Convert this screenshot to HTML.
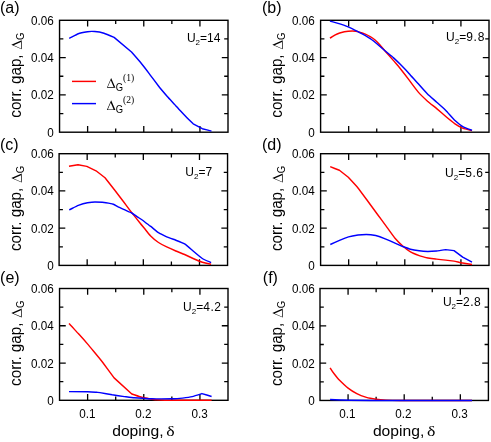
<!DOCTYPE html>
<html><head><meta charset="utf-8"><title>corr. gap vs doping</title>
<style>
html,body{margin:0;padding:0;background:#fff;}
body{width:491px;height:442px;overflow:hidden;}
svg{display:block;will-change:transform;}
text{font-family:"Liberation Sans",sans-serif;fill:#000;}
.tl{font-size:13px;}
.pl{font-size:16px;}
.ax{font-size:15px;}
.u{font-size:12px;}
.sy{font-family:"Liberation Serif",serif;}
.fr{fill:none;stroke:#000;stroke-width:1.4;}
.tk{fill:none;stroke:#000;stroke-width:1.3;}
.r{fill:none;stroke:#ff0000;stroke-width:1.45;stroke-linejoin:round;}
.b{fill:none;stroke:#0000ff;stroke-width:1.45;stroke-linejoin:round;}
</style></head><body>
<svg width="491" height="442" viewBox="0 0 491 442">
<rect x="0" y="0" width="491" height="442" fill="#fff"/>
<g id="panel-a">
<path class="tk" d="M87.62 20.30v6.20M87.62 132.20v-6.20M115.70 20.30v3.80M115.70 132.20v-3.80M143.77 20.30v6.20M143.77 132.20v-6.20M171.85 20.30v3.80M171.85 132.20v-3.80M199.93 20.30v6.20M199.93 132.20v-6.20M59.55 113.55h3.80M228.00 113.55h-3.80M59.55 94.90h6.20M228.00 94.90h-6.20M59.55 76.25h3.80M228.00 76.25h-3.80M59.55 57.60h6.20M228.00 57.60h-6.20M59.55 38.95h3.80M228.00 38.95h-3.80"/>
<rect class="fr" x="59.55" y="20.30" width="168.45" height="111.90"/>
<path class="b" d="M69.2 38.3C69.9 38.0 77.0 34.2 78.3 33.7C79.6 33.2 86.3 31.9 87.5 31.7C88.7 31.5 93.6 31.4 94.8 31.5C96.0 31.6 102.6 32.8 104.0 33.2C105.4 33.6 114.1 37.4 114.1 37.4C114.1 37.4 131.5 52.0 131.5 52.0C131.5 52.0 138.7 60.2 140.0 61.8C141.3 63.4 147.9 71.9 149.2 73.7C150.5 75.5 157.0 84.0 158.3 85.7C159.6 87.4 166.2 95.2 167.5 96.7C168.8 98.2 175.4 105.2 176.7 106.7C178.0 108.2 184.6 115.2 185.8 116.5C187.0 117.8 193.2 123.8 193.2 123.8C193.2 123.8 202.3 128.7 202.3 128.7C202.3 128.7 210.8 130.9 211.5 131.1"/>
<text class="tl" text-anchor="end" transform="translate(53.8 136.7) scale(0.9 1)">0</text>
<text class="tl" text-anchor="end" transform="translate(53.8 99.4) scale(0.9 1)">0.02</text>
<text class="tl" text-anchor="end" transform="translate(53.8 62.1) scale(0.9 1)">0.04</text>
<text class="tl" text-anchor="end" transform="translate(53.8 24.8) scale(0.9 1)">0.06</text>
<text class="ax" transform="translate(21.8 76.2) rotate(-90) scale(1.012 1.1)" x="-41" y="-0.4">corr. gap,</text>
<path d="M0 0L4.55 -10.40L9.10 0ZM0.91 -0.70L4.12 -8.06L7.34 -0.70Z" fill-rule="evenodd" transform="translate(21.8 76.2) rotate(-90) translate(26.9 -0.1)"/>
<text font-size="10" transform="translate(21.8 76.2) rotate(-90) translate(36.3 2.5) scale(0.95 1)">G</text>
<text class="pl" x="-0.1" y="12.8">(a)</text>
<text class="u" x="186.9" y="41.5">U<tspan font-size="8" dy="3">2</tspan><tspan dy="-3">=</tspan><tspan letter-spacing="0">14</tspan></text>
</g>
<g id="panel-b">
<path class="tk" d="M348.67 20.30v6.20M348.67 132.20v-6.20M376.73 20.30v3.80M376.73 132.20v-3.80M404.80 20.30v6.20M404.80 132.20v-6.20M432.87 20.30v3.80M432.87 132.20v-3.80M460.93 20.30v6.20M460.93 132.20v-6.20M320.60 113.55h3.80M489.00 113.55h-3.80M320.60 94.90h6.20M489.00 94.90h-6.20M320.60 76.25h3.80M489.00 76.25h-3.80M320.60 57.60h6.20M489.00 57.60h-6.20M320.60 38.95h3.80M489.00 38.95h-3.80"/>
<rect class="fr" x="320.60" y="20.30" width="168.40" height="111.90"/>
<path class="r" d="M329.9 38.2C330.3 38.0 334.1 35.5 334.8 35.1C335.5 34.7 338.7 33.3 339.7 33.0C340.7 32.7 347.0 31.3 348.2 31.2C349.4 31.1 354.3 31.0 355.6 31.2C356.9 31.4 364.2 33.7 365.3 34.1C366.4 34.5 369.5 36.2 370.2 36.6C370.9 37.0 374.4 39.4 375.1 40.0C375.8 40.6 379.3 44.3 380.0 45.1C380.7 45.9 384.0 49.9 385.0 51.0C386.0 52.1 392.2 59.1 393.3 60.4C394.4 61.7 398.8 66.7 400.0 68.2C401.2 69.7 407.9 78.4 409.2 80.2C410.5 82.0 417.0 90.6 418.3 92.1C419.6 93.6 426.2 100.0 427.5 101.2C428.8 102.4 435.4 107.5 436.7 108.6C438.0 109.7 444.5 115.4 445.8 116.5C447.1 117.6 453.7 122.9 455.0 123.8C456.3 124.7 462.0 127.9 463.2 128.4C464.4 128.9 471.4 130.5 472.0 130.7"/>
<path class="b" d="M329.9 21.1C330.4 21.2 335.9 22.7 337.2 23.1C338.5 23.5 346.7 26.2 348.2 26.8C349.7 27.4 356.7 31.0 358.0 31.7C359.3 32.4 365.4 35.6 366.6 36.3C367.8 37.0 372.6 40.1 373.9 41.2C375.2 42.3 383.6 49.6 385.0 50.8C386.4 52.0 392.2 56.6 393.3 57.6C394.4 58.6 398.8 62.8 400.0 64.0C401.2 65.2 407.9 72.2 409.2 73.7C410.5 75.2 417.0 82.3 418.3 83.8C419.6 85.3 426.2 92.6 427.5 93.9C428.8 95.2 435.4 101.0 436.7 102.2C438.0 103.4 444.5 109.1 445.8 110.4C447.1 111.7 453.7 119.3 455.0 120.5C456.3 121.7 462.0 126.2 463.2 126.9C464.4 127.6 471.4 130.0 472.0 130.2"/>
<text class="tl" text-anchor="end" transform="translate(314.8 136.7) scale(0.9 1)">0</text>
<text class="tl" text-anchor="end" transform="translate(314.8 99.4) scale(0.9 1)">0.02</text>
<text class="tl" text-anchor="end" transform="translate(314.8 62.1) scale(0.9 1)">0.04</text>
<text class="tl" text-anchor="end" transform="translate(314.8 24.8) scale(0.9 1)">0.06</text>
<text class="ax" transform="translate(282.8 76.2) rotate(-90) scale(1.012 1.1)" x="-41" y="-0.9">corr. gap,</text>
<path d="M0 0L4.55 -10.40L9.10 0ZM0.91 -0.70L4.12 -8.06L7.34 -0.70Z" fill-rule="evenodd" transform="translate(282.8 76.2) rotate(-90) translate(26.9 -0.1)"/>
<text font-size="10" transform="translate(282.8 76.2) rotate(-90) translate(36.3 2.5) scale(0.95 1)">G</text>
<text class="pl" x="262.0" y="12.6">(b)</text>
<text class="u" x="446.0" y="41.4">U<tspan font-size="8" dy="3">2</tspan><tspan dy="-3">=</tspan><tspan letter-spacing="0.75">9.8</tspan></text>
</g>
<g id="panel-c">
<path class="tk" d="M87.17 153.70v6.20M87.17 265.40v-6.20M115.25 153.70v3.80M115.25 265.40v-3.80M143.32 153.70v6.20M143.32 265.40v-6.20M171.40 153.70v3.80M171.40 265.40v-3.80M199.48 153.70v6.20M199.48 265.40v-6.20M59.10 246.78h3.80M227.55 246.78h-3.80M59.10 228.17h6.20M227.55 228.17h-6.20M59.10 209.55h3.80M227.55 209.55h-3.80M59.10 190.93h6.20M227.55 190.93h-6.20M59.10 172.32h3.80M227.55 172.32h-3.80"/>
<rect class="fr" x="59.10" y="153.70" width="168.45" height="111.70"/>
<path class="r" d="M69.0 166.3C69.7 166.2 78.0 164.8 78.0 164.8C78.0 164.8 86.8 166.4 86.8 166.4C86.8 166.4 96.0 170.8 96.0 170.8C96.0 170.8 105.0 177.8 105.0 177.8C105.0 177.8 113.3 188.3 114.6 190.0C115.9 191.7 121.7 199.3 123.0 201.0C124.3 202.7 130.4 211.0 131.7 212.6C133.0 214.2 139.2 222.0 140.2 223.3C141.2 224.6 145.0 229.1 145.7 230.0C146.4 230.9 149.5 234.8 150.4 235.7C151.3 236.6 157.3 241.7 158.5 242.5C159.7 243.3 165.4 246.3 166.7 246.9C168.0 247.5 174.5 250.4 175.8 251.0C177.1 251.6 183.3 253.9 184.6 254.5C185.9 255.1 191.8 257.9 193.1 258.5C194.4 259.1 201.0 261.8 202.3 262.2C203.6 262.6 210.5 264.1 211.1 264.2"/>
<path class="b" d="M69.2 209.9C69.9 209.6 77.0 205.9 78.3 205.4C79.6 204.9 86.3 203.0 87.5 202.8C88.7 202.6 93.9 202.0 95.0 202.0C96.1 202.0 101.3 202.1 102.3 202.2C103.3 202.3 107.6 202.9 108.4 203.1C109.2 203.3 112.5 204.0 113.3 204.3C114.1 204.6 118.5 207.0 119.4 207.4C120.3 207.8 124.6 209.8 125.5 210.2C126.4 210.6 130.8 212.5 131.7 213.0C132.6 213.5 136.9 216.5 137.8 217.1C138.7 217.7 143.0 220.5 143.9 221.2C144.8 221.9 149.3 225.4 150.4 226.2C151.5 227.0 157.3 231.9 158.5 232.7C159.7 233.5 165.4 236.2 166.7 236.8C168.0 237.4 174.5 239.7 175.8 240.2C177.1 240.7 183.3 243.1 184.6 243.9C185.9 244.7 191.8 249.9 193.1 251.0C194.4 252.1 201.0 257.6 202.3 258.5C203.6 259.4 210.5 262.3 211.1 262.6"/>
<text class="tl" text-anchor="end" transform="translate(53.8 269.9) scale(0.9 1)">0</text>
<text class="tl" text-anchor="end" transform="translate(53.8 232.7) scale(0.9 1)">0.02</text>
<text class="tl" text-anchor="end" transform="translate(53.8 195.4) scale(0.9 1)">0.04</text>
<text class="tl" text-anchor="end" transform="translate(53.8 158.2) scale(0.9 1)">0.06</text>
<text class="ax" transform="translate(21.8 209.5) rotate(-90) scale(1.012 1.1)" x="-41" y="-0.4">corr. gap,</text>
<path d="M0 0L4.55 -10.40L9.10 0ZM0.91 -0.70L4.12 -8.06L7.34 -0.70Z" fill-rule="evenodd" transform="translate(21.8 209.5) rotate(-90) translate(26.9 -0.1)"/>
<text font-size="10" transform="translate(21.8 209.5) rotate(-90) translate(36.3 2.5) scale(0.95 1)">G</text>
<text class="pl" x="-0.1" y="149.8">(c)</text>
<text class="u" x="185.3" y="175.5">U<tspan font-size="8" dy="3">2</tspan><tspan dy="-3">=</tspan><tspan letter-spacing="0">7</tspan></text>
</g>
<g id="panel-d">
<path class="tk" d="M348.67 153.70v6.20M348.67 265.40v-6.20M376.73 153.70v3.80M376.73 265.40v-3.80M404.80 153.70v6.20M404.80 265.40v-6.20M432.87 153.70v3.80M432.87 265.40v-3.80M460.93 153.70v6.20M460.93 265.40v-6.20M320.60 246.78h3.80M489.00 246.78h-3.80M320.60 228.17h6.20M489.00 228.17h-6.20M320.60 209.55h3.80M489.00 209.55h-3.80M320.60 190.93h6.20M489.00 190.93h-6.20M320.60 172.32h3.80M489.00 172.32h-3.80"/>
<rect class="fr" x="320.60" y="153.70" width="168.40" height="111.70"/>
<path class="r" d="M330.2 166.7C330.9 167.0 339.4 170.3 339.4 170.3C339.4 170.3 348.3 177.3 348.3 177.3C348.3 177.3 356.2 185.8 357.6 187.5C359.0 189.2 366.1 198.9 367.5 200.8C368.9 202.7 375.6 211.9 377.0 213.8C378.4 215.7 385.2 224.8 386.5 226.6C387.8 228.4 393.8 236.8 395.0 238.2C396.2 239.6 401.6 245.0 402.7 246.0C403.8 247.0 409.3 251.1 410.5 251.8C411.7 252.5 417.9 255.1 419.2 255.6C420.5 256.1 426.6 257.7 427.9 258.0C429.2 258.3 435.3 258.9 436.6 259.1C437.9 259.3 444.4 260.0 445.7 260.1C447.0 260.2 452.8 260.9 454.0 261.1C455.2 261.3 461.4 262.8 462.7 263.0C464.0 263.2 471.3 264.4 472.0 264.5"/>
<path class="b" d="M330.3 244.5C331.0 244.2 338.2 241.0 339.5 240.4C340.8 239.8 347.1 237.3 348.5 236.9C349.9 236.5 356.7 235.2 358.0 235.0C359.3 234.8 364.9 234.4 366.2 234.4C367.5 234.4 374.3 235.2 375.7 235.5C377.1 235.8 383.8 238.2 385.2 238.8C386.6 239.4 393.7 242.5 395.0 243.1C396.3 243.7 401.6 246.1 402.7 246.5C403.8 246.9 409.3 248.9 410.5 249.2C411.7 249.5 417.9 250.6 419.2 250.8C420.5 251.0 426.6 251.4 427.9 251.4C429.2 251.4 435.3 251.1 436.6 251.0C437.9 250.9 445.7 249.6 445.7 249.6C445.7 249.6 454.0 250.6 454.0 250.6C454.0 250.6 462.7 257.2 462.7 257.2C462.7 257.2 471.3 261.8 472.0 262.2"/>
<text class="tl" text-anchor="end" transform="translate(314.8 269.9) scale(0.9 1)">0</text>
<text class="tl" text-anchor="end" transform="translate(314.8 232.7) scale(0.9 1)">0.02</text>
<text class="tl" text-anchor="end" transform="translate(314.8 195.4) scale(0.9 1)">0.04</text>
<text class="tl" text-anchor="end" transform="translate(314.8 158.2) scale(0.9 1)">0.06</text>
<text class="ax" transform="translate(282.8 209.5) rotate(-90) scale(1.012 1.1)" x="-41" y="-0.9">corr. gap,</text>
<path d="M0 0L4.55 -10.40L9.10 0ZM0.91 -0.70L4.12 -8.06L7.34 -0.70Z" fill-rule="evenodd" transform="translate(282.8 209.5) rotate(-90) translate(26.9 -0.1)"/>
<text font-size="10" transform="translate(282.8 209.5) rotate(-90) translate(36.3 2.5) scale(0.95 1)">G</text>
<text class="pl" x="262.0" y="149.6">(d)</text>
<text class="u" x="445.1" y="177.4">U<tspan font-size="8" dy="3">2</tspan><tspan dy="-3">=</tspan><tspan letter-spacing="0.5">5.6</tspan></text>
</g>
<g id="panel-e">
<path class="tk" d="M87.62 288.50v6.20M87.62 400.30v-6.20M115.70 288.50v3.80M115.70 400.30v-3.80M143.77 288.50v6.20M143.77 400.30v-6.20M171.85 288.50v3.80M171.85 400.30v-3.80M199.93 288.50v6.20M199.93 400.30v-6.20M59.55 381.67h3.80M228.00 381.67h-3.80M59.55 363.03h6.20M228.00 363.03h-6.20M59.55 344.40h3.80M228.00 344.40h-3.80M59.55 325.77h6.20M228.00 325.77h-6.20M59.55 307.13h3.80M228.00 307.13h-3.80"/>
<rect class="fr" x="59.55" y="288.50" width="168.45" height="111.80"/>
<path class="r" d="M69.0 323.5C69.7 324.2 76.9 332.1 78.3 333.6C79.7 335.1 86.6 342.9 87.9 344.4C89.2 345.9 95.4 353.4 96.5 354.7C97.6 356.0 101.1 360.3 102.4 362.0C103.7 363.7 114.1 377.9 114.1 377.9C114.1 377.9 131.8 394.0 131.8 394.0C131.8 394.0 138.9 396.4 140.0 396.7C141.1 397.0 146.1 398.1 147.3 398.3C148.5 398.5 154.6 399.7 155.9 399.8C157.2 399.9 160.9 400.2 165.0 400.2C169.1 400.2 208.2 400.2 211.6 400.2"/>
<path class="b" d="M69.0 391.6C70.4 391.6 85.9 391.7 87.9 391.8C89.9 391.9 95.6 392.2 96.5 392.3C97.4 392.4 98.8 392.4 100.0 392.6C101.2 392.8 110.4 394.5 112.2 394.8C114.0 395.1 122.8 396.4 124.4 396.6C126.0 396.8 132.9 397.7 134.2 397.8C135.5 397.9 141.5 398.2 142.8 398.3C144.1 398.4 150.2 398.8 151.6 398.8C153.0 398.8 159.8 398.9 161.3 398.9C162.8 398.9 170.3 398.9 171.9 398.8C173.5 398.7 181.1 398.3 182.6 398.1C184.1 397.9 190.8 396.9 192.2 396.6C193.6 396.3 201.9 393.6 201.9 393.6C201.9 393.6 210.9 396.3 211.6 396.5"/>
<text class="tl" text-anchor="end" transform="translate(53.8 404.8) scale(0.9 1)">0</text>
<text class="tl" text-anchor="end" transform="translate(53.8 367.5) scale(0.9 1)">0.02</text>
<text class="tl" text-anchor="end" transform="translate(53.8 330.3) scale(0.9 1)">0.04</text>
<text class="tl" text-anchor="end" transform="translate(53.8 293.0) scale(0.9 1)">0.06</text>
<text class="tl" text-anchor="middle" transform="translate(87.3 417.7) scale(0.9 1)">0.1</text>
<text class="tl" text-anchor="middle" transform="translate(143.5 417.7) scale(0.9 1)">0.2</text>
<text class="tl" text-anchor="middle" transform="translate(199.6 417.7) scale(0.9 1)">0.3</text>
<text class="ax" transform="translate(112.2 436.3) scale(1.045 1)">doping,</text>
<text class="sy" font-size="14.6" transform="translate(166.3 436.3) scale(1.22 1)">δ</text>
<text class="ax" transform="translate(21.8 344.4) rotate(-90) scale(1.012 1.1)" x="-41" y="-0.4">corr. gap,</text>
<path d="M0 0L4.55 -10.40L9.10 0ZM0.91 -0.70L4.12 -8.06L7.34 -0.70Z" fill-rule="evenodd" transform="translate(21.8 344.4) rotate(-90) translate(26.9 -0.1)"/>
<text font-size="10" transform="translate(21.8 344.4) rotate(-90) translate(36.3 2.5) scale(0.95 1)">G</text>
<text class="pl" x="0.1" y="282.8">(e)</text>
<text class="u" x="183.1" y="310.5">U<tspan font-size="8" dy="3">2</tspan><tspan dy="-3">=</tspan><tspan letter-spacing="0.5">4.2</tspan></text>
</g>
<g id="panel-f">
<path class="tk" d="M348.07 288.50v6.20M348.07 400.45v-6.20M376.13 288.50v3.80M376.13 400.45v-3.80M404.20 288.50v6.20M404.20 400.45v-6.20M432.27 288.50v3.80M432.27 400.45v-3.80M460.33 288.50v6.20M460.33 400.45v-6.20M320.00 381.79h3.80M488.40 381.79h-3.80M320.00 363.13h6.20M488.40 363.13h-6.20M320.00 344.48h3.80M488.40 344.48h-3.80M320.00 325.82h6.20M488.40 325.82h-6.20M320.00 307.16h3.80M488.40 307.16h-3.80"/>
<rect class="fr" x="320.00" y="288.50" width="168.40" height="111.95"/>
<path class="r" d="M330.1 367.8C330.4 368.3 333.8 373.3 334.5 374.2C335.2 375.1 338.3 379.0 339.3 380.0C340.3 381.0 346.8 387.1 348.1 388.1C349.4 389.1 355.5 393.0 356.8 393.7C358.1 394.4 365.0 397.0 366.4 397.4C367.8 397.8 374.7 399.0 376.1 399.2C377.5 399.4 384.0 400.0 385.8 400.1C387.6 400.2 393.7 400.4 400.0 400.4C406.3 400.5 466.7 400.4 472.0 400.4"/>
<path class="b" d="M330.1 399.5C331.6 399.6 347.1 400.2 350.0 400.3C352.9 400.4 361.0 400.4 370.0 400.4C379.0 400.5 464.6 400.4 472.1 400.4"/>
<text class="tl" text-anchor="end" transform="translate(314.8 404.9) scale(0.9 1)">0</text>
<text class="tl" text-anchor="end" transform="translate(314.8 367.6) scale(0.9 1)">0.02</text>
<text class="tl" text-anchor="end" transform="translate(314.8 330.3) scale(0.9 1)">0.04</text>
<text class="tl" text-anchor="end" transform="translate(314.8 293.0) scale(0.9 1)">0.06</text>
<text class="tl" text-anchor="middle" transform="translate(347.4 417.7) scale(0.9 1)">0.1</text>
<text class="tl" text-anchor="middle" transform="translate(403.5 417.7) scale(0.9 1)">0.2</text>
<text class="tl" text-anchor="middle" transform="translate(459.6 417.7) scale(0.9 1)">0.3</text>
<text class="ax" transform="translate(372.9 436.3) scale(1.045 1)">doping,</text>
<text class="sy" font-size="14.6" transform="translate(427.0 436.3) scale(1.22 1)">δ</text>
<text class="ax" transform="translate(282.8 344.5) rotate(-90) scale(1.012 1.1)" x="-41" y="-0.9">corr. gap,</text>
<path d="M0 0L4.55 -10.40L9.10 0ZM0.91 -0.70L4.12 -8.06L7.34 -0.70Z" fill-rule="evenodd" transform="translate(282.8 344.5) rotate(-90) translate(26.9 -0.1)"/>
<text font-size="10" transform="translate(282.8 344.5) rotate(-90) translate(36.3 2.5) scale(0.95 1)">G</text>
<text class="pl" x="262.8" y="282.7">(f)</text>
<text class="u" x="442.9" y="306.4">U<tspan font-size="8" dy="3">2</tspan><tspan dy="-3">=</tspan><tspan letter-spacing="0.5">2.8</tspan></text>
</g>
<g id="legend">
<path class="r" d="M72 81.4H96"/>
<path class="b" d="M72 103.6H96"/>
<path d="M0 0L4.25 -9.85L8.50 0ZM0.90 -0.70L3.83 -7.47L6.75 -0.70Z" fill-rule="evenodd" transform="translate(106.9 87.8)"/>
<text font-size="10" transform="translate(115.8 91.1) scale(0.94 1)">G</text>
<text class="sy" font-size="9.6" x="123.1" y="80.6">(1)</text>
<path d="M0 0L4.25 -9.85L8.50 0ZM0.90 -0.70L3.83 -7.47L6.75 -0.70Z" fill-rule="evenodd" transform="translate(106.9 110.1)"/>
<text font-size="10" transform="translate(115.8 113.4) scale(0.94 1)">G</text>
<text class="sy" font-size="9.6" x="123.1" y="102.9">(2)</text>
</g>
</svg>
</body></html>
